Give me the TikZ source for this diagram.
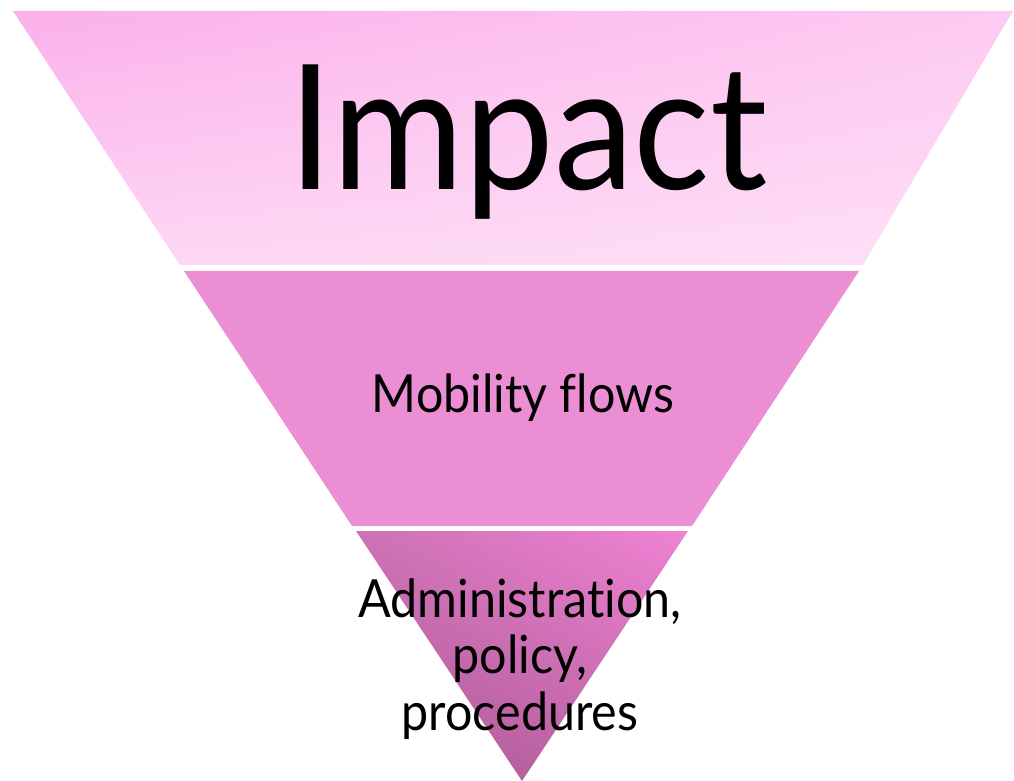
\documentclass[tikz,border=0pt]{standalone}
\usepackage{fontspec}
\setmainfont{Lato}[FakeStretch=0.92,Ligatures=NoCommon]
\usetikzlibrary{shadings}
\definecolor{topul}{RGB}{251,176,234}
\definecolor{topur}{RGB}{253,202,241}
\definecolor{topll}{RGB}{253,214,243}
\definecolor{toplr}{RGB}{254,224,246}
\definecolor{bandmid}{RGB}{235,142,211}
\definecolor{lowul}{RGB}{205,114,180}
\definecolor{lowur}{RGB}{240,130,212}
\definecolor{lowll}{RGB}{168,86,146}
\definecolor{lowlr}{RGB}{196,106,170}

\begin{document}
\begin{tikzpicture}[x=0.5pt,y=-0.5pt]

\useasboundingbox (0,0) rectangle (1014,781);

% top band
\shade[upper left=topul,upper right=topur,lower left=topll,lower right=toplr]
  (13,11) -- (1013,11) -- (863,265) -- (180,265) -- cycle;
\node[anchor=base,font=\fontsize{87}{90}\selectfont] (impact) at (528,190) {Impact};

% middle band
\fill[bandmid] (184,271) -- (859,271) -- (692,526) -- (352,526) -- cycle;
\node[anchor=base,font=\fontsize{26.3}{30}\selectfont] (flows) at (523,413) {Mobility flows};

% bottom band
\shade[upper left=lowul,upper right=lowur,lower left=lowll,lower right=lowlr]
  (356,531) -- (688,531) -- (522,781) -- cycle;
\node[anchor=base,font=\fontsize{26.3}{28}\selectfont] (admin) at (520,617) {Administration,};
\node[anchor=base,font=\fontsize{26.3}{28}\selectfont] (policy) at (520,673) {policy,};
\node[anchor=base,font=\fontsize{26.3}{28}\selectfont] (proc) at (520,730) {procedures};

\end{tikzpicture}
\end{document}
